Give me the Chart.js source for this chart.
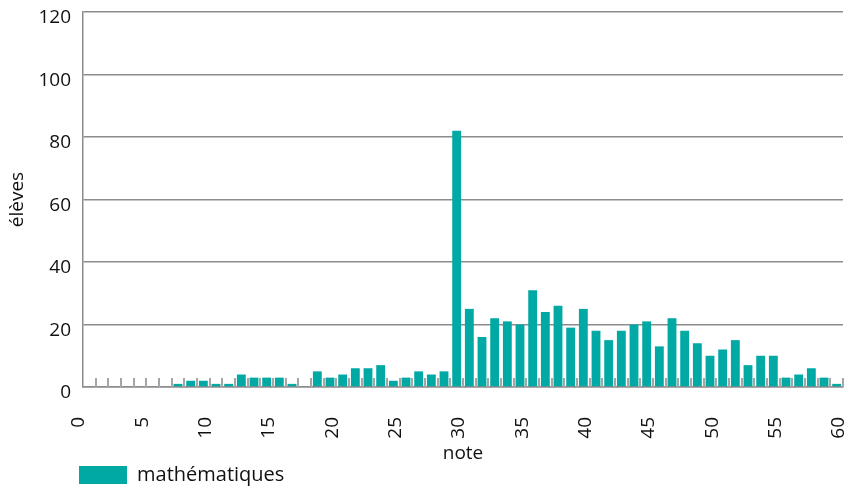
<!DOCTYPE html>
<html><head><meta charset="utf-8">
<script src="https://cdn.jsdelivr.net/npm/chart.js@4"></script>
<style>html,body{margin:0;padding:0;background:#fff}#wrap{width:845px;height:492px;position:relative}</style>
</head><body><div id="wrap"><canvas id="c" width="845" height="492"></canvas></div>
<script>
// Notes (each bar occupies the interval [note-1, note])
const notes = [1,2,3,4,5,6,7,8,9,10,11,12,13,14,15,16,17,18,19,20,21,22,23,24,25,26,27,28,29,30,
               31,32,33,34,35,36,37,38,39,40,41,42,43,44,45,46,47,48,49,50,51,52,53,54,55,56,57,58,59,60];
const eleves = [0,0,0,0,0,0,0,1,2,2,1,1,4,3,3,3,1,0,5,3,4,6,6,7,2,3,5,4,5,82,
                25,16,22,21,20,31,24,26,19,25,18,15,18,20,21,13,22,18,14,10,12,15,7,10,10,3,4,6,3,1];
const xTicks = [0,5,10,15,20,25,30,35,40,45,50,55,60];
const yTicks = [0,20,40,60,80,100,120];
const seriesName = 'mathématiques';
const xTitle = 'note';
const yTitle = 'élèves';

const FONT = 'Open Sans';
const FS = 19;
const TXT = '#111';
const GRID = '#8c8c8c';

const innerTicks = {
  id: 'innerTicks',
  beforeDatasetsDraw(chart) {
    const s = chart.scales.x2, y = chart.scales.y, ctx = chart.ctx;
    const y0 = y.getPixelForValue(0);
    ctx.save();
    ctx.strokeStyle = '#a6a6a6';
    ctx.lineWidth = 2;
    for (let v = s.min + 1; v <= s.max; v++) {
      const px = Math.round(s.getPixelForValue(v));
      ctx.beginPath(); ctx.moveTo(px, y0); ctx.lineTo(px, y0 - 9); ctx.stroke();
    }
    ctx.restore();
  }
};
const legendShift = {
  id: 'legendShift',
  afterLayout(chart) {
    const l = chart.legend;
    const pad = l.options.labels.padding;
    const target = chart.chartArea.left - 4 - pad;
    const dx = target - l.left;
    l.left += dx; l.right += dx;
    l.top += 3; l.bottom += 3;
  }
};

new Chart(document.getElementById('c'), {
  type: 'bar',
  data: {
    labels: notes,
    datasets: [{
      label: seriesName,
      data: eleves,
      backgroundColor: '#00a9a4',
      borderWidth: 0,
      barPercentage: 0.7,
      categoryPercentage: 1.0,
      xAxisID: 'x',
      yAxisID: 'y'
    }]
  },
  options: {
    responsive: false,
    animation: false,
    devicePixelRatio: 1,
    layout: { padding: { top: 12, right: 2, left: 0, bottom: 0 } },
    plugins: {
      legend: {
        position: 'bottom',
        align: 'start',
        labels: {
          boxWidth: 48, boxHeight: 18, padding: 8,
          color: TXT, font: { family: FONT, size: 20 }
        }
      },
      tooltip: { enabled: false }
    },
    scales: {
      x: { type: 'category', display: false, offset: true },
      x2: {
        type: 'linear', position: 'bottom', min: 0, max: 60, offset: false,
        afterBuildTicks(s) { s.ticks = xTicks.map(v => ({ value: v })); },
        afterFit(s) { s.paddingLeft = 0; s.paddingRight = 0; s.height = 67; },
        grid: { display: false, offset: false },
        border: { display: true, color: GRID, width: 1.5 },
        ticks: {
          minRotation: 90, maxRotation: 90, padding: 22, labelOffset: -4,
          autoSkip: false, color: TXT, font: { family: FONT, size: FS }
        },
        title: { display: true, text: xTitle, color: TXT, font: { family: FONT, size: FS }, padding: { top: 0, bottom: -11 } }
      },
      y: {
        min: 0, max: 120,
        afterBuildTicks(s) { s.ticks = yTicks.map(v => ({ value: v })); },
        afterFit(s) { s.width = 83; s.paddingTop = 0; s.paddingBottom = 0; },
        grid: { color: GRID, lineWidth: 1.5, drawTicks: false },
        border: { display: true, color: GRID, width: 1.5 },
        ticks: { padding: 12, labelOffset: 6, color: TXT, font: { family: FONT, size: FS } },
        title: { display: true, text: yTitle, color: TXT, font: { family: FONT, size: FS }, padding: { top: 6, bottom: 0 } }
      }
    }
  },
  plugins: [innerTicks, legendShift]
});
</script>
</body></html>
